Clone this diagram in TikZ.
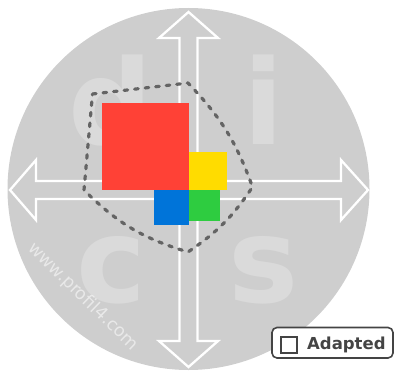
\documentclass[tikz,border=0pt]{standalone}
\usepackage{fontspec}
\setmainfont{DejaVu Sans}
\begin{document}
\begin{tikzpicture}[x=1pt,y=-1pt,
  bigletter/.style={text=letgrey,font=\fontsize{118}{118}\selectfont\bfseries,inner sep=0pt,anchor=base},
  arrowline/.style={draw=white,line width=2.3pt,line join=miter},
  blob/.style={draw=dashgrey,line width=3.2pt,line cap=round,line join=round,dash pattern=on 3.6pt off 7pt}]
\definecolor{circgrey}{HTML}{CECECE}
\definecolor{letgrey}{HTML}{DADADA}
\definecolor{dashgrey}{HTML}{646464}
\definecolor{sqred}{HTML}{FF4136}
\definecolor{sqyellow}{HTML}{FFDC00}
\definecolor{sqgreen}{HTML}{2ECC40}
\definecolor{sqblue}{HTML}{0074D9}
\definecolor{boxgrey}{HTML}{444444}
\useasboundingbox (0,0) rectangle (395,374);
% disc
\fill[circgrey] (188.5,189) circle (181);
% letters
\node[bigletter] (ld) at (110.5,144) {d};
\node[bigletter] (li) at (264,144) {i};
\node[bigletter] (lc) at (111,302) {c};
\node[bigletter] (ls) at (264,302) {s};
% watermark
\node[text=white,opacity=0.55,font=\fontsize{17.5}{17.5}\selectfont,rotate=-44,inner sep=0pt] (wm) at (83,297) {www.profil4.com};
% arrows
\draw[arrowline] (188.5,12) -- (218,38) -- (197.5,38) -- (197.5,341) -- (218,341) -- (188.5,367)
  -- (159,341) -- (179.5,341) -- (179.5,38) -- (159,38) -- cycle;
\draw[arrowline] (10,190) -- (36,160) -- (36,181) -- (341,181) -- (341,160) -- (368,190)
  -- (341,220) -- (341,199) -- (36,199) -- (36,220) -- cycle;
% dashed outline
\coordinate (p1) at (92.5,94);
\coordinate (p2) at (188,83);
\coordinate (p3) at (252.5,187);
\coordinate (p4) at (188,252);
\coordinate (p5) at (84,190);
\draw[blob] (p1) -- (p2) to[bend left=12] (p3) to[bend left=11] (p4) to[bend left=14] (p5) -- cycle;
% squares
\fill[sqred] (102,103) rectangle (189,190);
\fill[sqyellow] (189,152) rectangle (227,190);
\fill[sqgreen] (189,190) rectangle (220,221);
\fill[sqblue] (154,190) rectangle (189,225);
% adapted box
\draw[boxgrey,fill=white,line width=1.6pt,rounded corners=5pt] (272,327.5) rectangle (393,358);
\draw[boxgrey,line width=1.5pt] (281,337) rectangle (297,353);
\node[text=boxgrey,font=\fontsize{16.5}{16.5}\selectfont\bfseries,anchor=base west,inner sep=0pt] (ad) at (307,349.5) {Adapted};
\end{tikzpicture}
\end{document}
